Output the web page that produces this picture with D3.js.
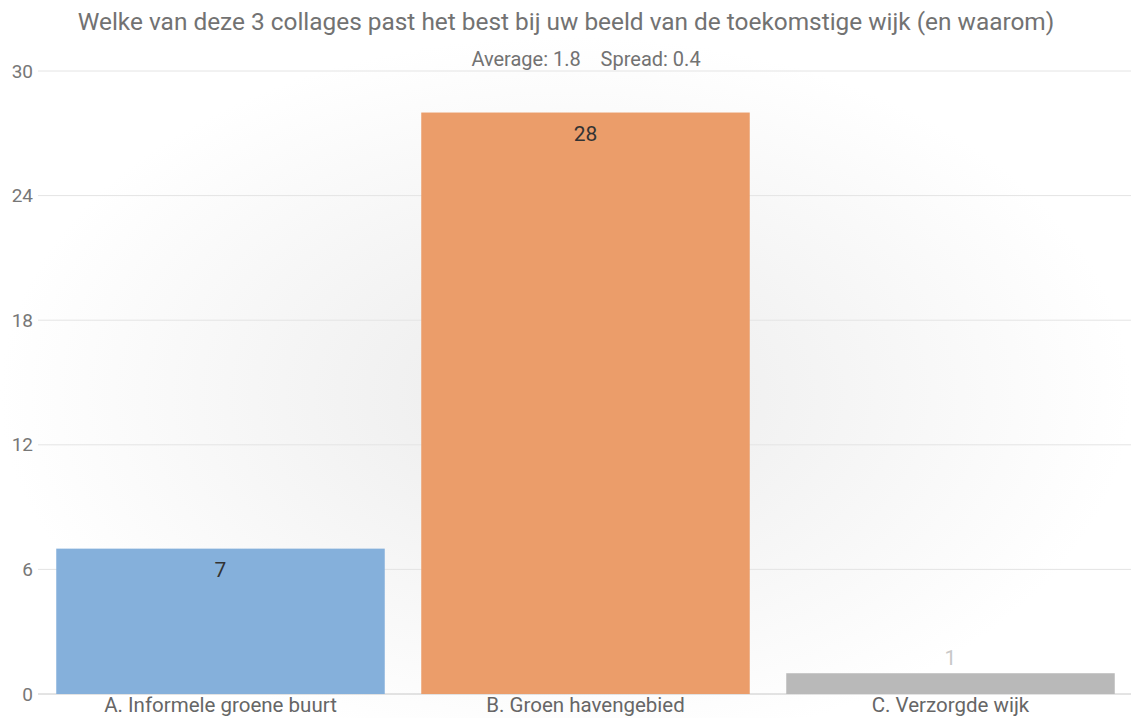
<!DOCTYPE html>
<html><head><meta charset="utf-8">
<script src="https://cdn.jsdelivr.net/npm/d3@7"></script>
<style>body{margin:0;background:#fff;font-family:Roboto,"Open Sans",sans-serif}</style>
</head><body><svg id="c" width="1131" height="718"></svg>
<script>
const categories = ["A. Informele groene buurt", "B. Groen havengebied", "C. Verzorgde wijk"];
const values = [7, 28, 1];
const colors = ["#85b0db", "#eb9d6a", "#b9b9b9"];
const labelColors = ["#333333", "#333333", "#c8c8c8"];
const yTicks = [0, 6, 12, 18, 24, 30];
const title = "Welke van deze 3 collages past het best bij uw beeld van de toekomstige wijk (en waarom)";
const subtitle = "Average: 1.8    Spread: 0.4";

const svg = d3.select("#c");
const W = 1131, H = 718;
const defs = svg.append("defs");
const rg = defs.append("radialGradient").attr("id","bg").attr("cx","50%").attr("cy","55%").attr("r","50%");
rg.append("stop").attr("offset","0%").attr("stop-color","#ebebeb");
rg.append("stop").attr("offset","100%").attr("stop-color","#ffffff");
svg.append("rect").attr("width",W).attr("height",H).attr("fill","url(#bg)");

const x = d3.scaleBand().domain(categories).range([38,1133]).paddingInner(0.1).paddingOuter(0.05);
const y = d3.scaleLinear().domain([0,30]).range([694,71]);

svg.append("g").selectAll("line").data(yTicks).join("line")
  .attr("x1",38).attr("x2",W).attr("y1",d=>y(d)).attr("y2",d=>y(d))
  .attr("stroke",d=>d===0?"#c8c8c8":"#e4e4e4").attr("stroke-width",1);

const yAxis = svg.append("g").attr("transform","translate(33,0)")
  .call(d3.axisLeft(y).tickValues(yTicks).tickSize(0).tickPadding(0));
yAxis.select(".domain").remove();
yAxis.selectAll("text").attr("font-size",19).attr("fill","#777").attr("font-family","Roboto");

svg.append("g").selectAll("rect").data(values).join("rect")
  .attr("x",(d,i)=>x(categories[i])).attr("width",x.bandwidth())
  .attr("y",d=>y(d)).attr("height",d=>y(0)-y(d))
  .attr("fill",(d,i)=>colors[i]);

svg.append("g").selectAll("text").data(values).join("text")
  .attr("x",(d,i)=>x(categories[i])+x.bandwidth()/2)
  .attr("y",d=> d>=3 ? y(d)+28 : y(d)-8)
  .attr("text-anchor","middle").attr("font-size",21)
  .attr("fill",(d,i)=>labelColors[i]).text(d=>d);

const xAxis = svg.append("g").attr("transform","translate(0,694)")
  .call(d3.axisBottom(x).tickSize(0).tickPadding(3));
xAxis.select(".domain").remove();
xAxis.selectAll("text").attr("font-size",20.5).attr("fill","#666").attr("font-family","Roboto");

svg.append("text").attr("x",566).attr("y",30).attr("text-anchor","middle")
  .attr("font-size",24.4).attr("fill","#727272").text(title);
svg.append("text").attr("x",586).attr("y",66).attr("text-anchor","middle")
  .attr("font-size",20).attr("fill","#727272").attr("xml:space","preserve").style("white-space","pre").text(subtitle);
</script></body></html>
